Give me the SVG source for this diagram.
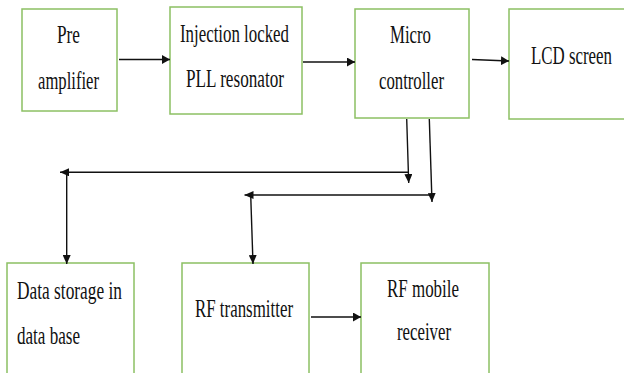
<svg xmlns="http://www.w3.org/2000/svg" width="624" height="373" viewBox="0 0 624 373">
  <defs>
    <style>
      .box { fill: #ffffff; stroke: #8cc063; stroke-width: 1.5; }
      .lbl { font-family: "Liberation Serif", "Times New Roman", serif; font-size: 26px; fill: #111111; }
      .mid { text-anchor: middle; }
      .wire { fill: none; stroke: #111111; stroke-width: 1.4; }
    </style>
    <marker id="arrow" viewBox="0 0 10 10" refX="10" refY="5" markerWidth="9" markerHeight="8" markerUnits="userSpaceOnUse" orient="auto" preserveAspectRatio="none">
      <path d="M0,0 L10,5 L0,10 z" fill="#111111"/>
    </marker>
    <marker id="arrowBig" viewBox="0 0 10 10" refX="10" refY="5" markerWidth="8" markerHeight="9" markerUnits="userSpaceOnUse" orient="auto" preserveAspectRatio="none">
      <path d="M0,0 L10,5 L0,10 z" fill="#111111"/>
    </marker>
  </defs>
  <rect width="624" height="373" fill="#ffffff"/>

  <g id="pre-amplifier">
    <rect class="box" x="22" y="9" width="95" height="102"/>
    <text class="lbl mid" x="68.5" y="42.5" textLength="23" lengthAdjust="spacingAndGlyphs">Pre</text>
    <text class="lbl mid" x="68.5" y="88.5" textLength="61" lengthAdjust="spacingAndGlyphs">amplifier</text>
  </g>

  <g id="pll-resonator">
    <rect class="box" x="170" y="7" width="132" height="107"/>
    <text class="lbl mid" x="234.5" y="41.5" textLength="109" lengthAdjust="spacingAndGlyphs">Injection locked</text>
    <text class="lbl mid" x="235" y="87" textLength="98" lengthAdjust="spacingAndGlyphs">PLL resonator</text>
  </g>

  <g id="micro-controller">
    <rect class="box" x="355" y="9" width="114" height="109"/>
    <text class="lbl mid" x="410.5" y="43" textLength="41" lengthAdjust="spacingAndGlyphs">Micro</text>
    <text class="lbl mid" x="411.5" y="89" textLength="65" lengthAdjust="spacingAndGlyphs">controller</text>
  </g>

  <g id="lcd-screen">
    <rect class="box" x="509" y="9" width="117" height="110"/>
    <text class="lbl mid" x="571.5" y="63.5" textLength="81" lengthAdjust="spacingAndGlyphs">LCD screen</text>
  </g>

  <g id="data-storage">
    <rect class="box" x="7" y="263" width="127" height="120"/>
    <text class="lbl" x="17" y="299" textLength="105" lengthAdjust="spacingAndGlyphs">Data storage in</text>
    <text class="lbl" x="17" y="344" textLength="63" lengthAdjust="spacingAndGlyphs">data base</text>
  </g>

  <g id="rf-transmitter">
    <rect class="box" x="182" y="263" width="127" height="120"/>
    <text class="lbl mid" x="244" y="317" textLength="98" lengthAdjust="spacingAndGlyphs">RF transmitter</text>
  </g>

  <g id="rf-receiver">
    <rect class="box" x="361" y="263" width="128" height="120"/>
    <text class="lbl mid" x="423" y="297" textLength="72" lengthAdjust="spacingAndGlyphs">RF mobile</text>
    <text class="lbl mid" x="424" y="340" textLength="54" lengthAdjust="spacingAndGlyphs">receiver</text>
  </g>

  <g id="connectors">
    <line class="wire" x1="119" y1="59.5" x2="170" y2="59.5" marker-end="url(#arrowBig)"/>
    <line class="wire" x1="303" y1="62" x2="355" y2="62" marker-end="url(#arrowBig)"/>
    <line class="wire" x1="472" y1="59.5" x2="509" y2="61" marker-end="url(#arrowBig)"/>
    <!-- micro controller to data storage -->
    <line class="wire" x1="406.7" y1="119" x2="408.7" y2="183" marker-end="url(#arrow)"/>
    <line class="wire" x1="408" y1="172.3" x2="60" y2="172.3" marker-end="url(#arrow)"/>
    <line class="wire" x1="66.7" y1="172.3" x2="66.7" y2="264" marker-end="url(#arrow)"/>
    <!-- micro controller to RF transmitter -->
    <line class="wire" x1="429.3" y1="119" x2="432" y2="202" marker-end="url(#arrow)"/>
    <line class="wire" x1="432" y1="195" x2="244.5" y2="195" marker-end="url(#arrow)"/>
    <line class="wire" x1="250.7" y1="195" x2="253" y2="264" marker-end="url(#arrow)"/>
    <!-- transmitter to receiver -->
    <line class="wire" x1="311" y1="317" x2="361" y2="317" marker-end="url(#arrowBig)"/>
  </g>
</svg>
